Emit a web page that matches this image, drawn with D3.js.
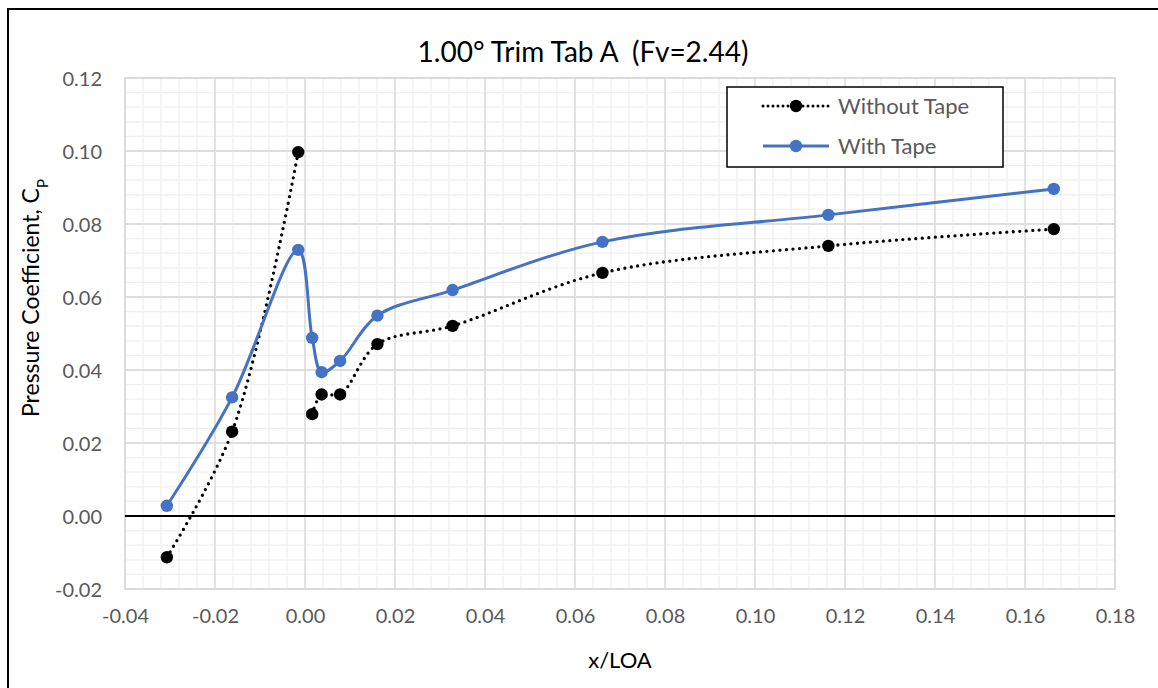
<!DOCTYPE html>
<html>
<head>
<meta charset="utf-8">
<script src="https://cdn.jsdelivr.net/npm/d3@7"></script>
<style>
  html, body { margin: 0; padding: 0; background: #fff; }
  svg { display: block; font-family: Lato, "Open Sans", sans-serif; }
</style>
</head>
<body>
<svg id="chart" width="1158" height="688"></svg>
<script>
// ---- data ----
const xPositions = [-0.0307, -0.0162, -0.0015, 0.0016, 0.0037, 0.0078, 0.0161, 0.0328, 0.0661, 0.1163, 0.1664];
const withoutTape = [-0.0113, 0.0231, 0.0997, 0.0279, 0.0333, 0.0333, 0.0471, 0.0521, 0.0666, 0.0740, 0.0786];
const withTape    = [0.0028, 0.0325, 0.0729, 0.0488, 0.0394, 0.0425, 0.0549, 0.0619, 0.0751, 0.0825, 0.0896];
const withoutTapeBreakAfter = [2]; // the dotted line is not drawn between these points
const xTicks = [-0.04, -0.02, 0.00, 0.02, 0.04, 0.06, 0.08, 0.10, 0.12, 0.14, 0.16, 0.18];
const yTicks = [-0.02, 0.00, 0.02, 0.04, 0.06, 0.08, 0.10, 0.12];
const seriesNames = ["Without Tape", "With Tape"];
const chartTitle = "1.00\u00B0 Trim Tab A  (Fv=2.44)";

// ---- layout ----
const svg = d3.select("#chart");
const L = 125, R = 1115, T = 78, B = 589;
const x = d3.scaleLinear().domain([-0.04, 0.18]).range([L, R]);
const y = d3.scaleLinear().domain([-0.02, 0.12]).range([B, T]);

// outer frame (partially visible)
svg.append("path")
  .attr("d", `M8,700 L8,9 L1170,9`)
  .attr("fill", "none").attr("stroke", "#000").attr("stroke-width", 2);

// minor grid
const minorX = d3.range(0, 56).map(i => -0.04 + i * 0.004).filter(v => v < 0.1801);
const minorY = d3.range(0, 36).map(i => -0.02 + i * 0.004).filter(v => v < 0.1201);
const g = svg.append("g");
g.selectAll(".mx").data(minorX).join("line")
  .attr("x1", d => x(d)).attr("x2", d => x(d)).attr("y1", T).attr("y2", B)
  .attr("stroke", "#f0f0f0").attr("stroke-width", 1.3);
g.selectAll(".my").data(minorY).join("line")
  .attr("y1", d => y(d)).attr("y2", d => y(d)).attr("x1", L).attr("x2", R)
  .attr("stroke", "#f0f0f0").attr("stroke-width", 1.3);
// major grid
g.selectAll(".Mx").data(xTicks).join("line")
  .attr("x1", d => x(d)).attr("x2", d => x(d)).attr("y1", T).attr("y2", B)
  .attr("stroke", "#d9d9d9").attr("stroke-width", 1.3);
g.selectAll(".My").data(yTicks).join("line")
  .attr("y1", d => y(d)).attr("y2", d => y(d)).attr("x1", L).attr("x2", R)
  .attr("stroke", "#d9d9d9").attr("stroke-width", 1.3);
// plot border
svg.append("rect").attr("x", L).attr("y", T).attr("width", R - L).attr("height", B - T)
  .attr("fill", "none").attr("stroke", "#d9d9d9").attr("stroke-width", 1.3);

// zero line
svg.append("line").attr("x1", L).attr("x2", R).attr("y1", y(0)).attr("y2", y(0))
  .attr("stroke", "#000").attr("stroke-width", 2);

// axes (labels only)
const xAxis = d3.axisBottom(x).tickValues(xTicks).tickFormat(d3.format(".2f")).tickSize(0).tickPadding(0);
const yAxis = d3.axisLeft(y).tickValues(yTicks).tickFormat(d3.format(".2f")).tickSize(0).tickPadding(0);
const gx = svg.append("g").attr("transform", `translate(0,${B + 20})`).call(xAxis);
const gy = svg.append("g").attr("transform", `translate(${L - 23},0)`).call(yAxis);
[gx, gy].forEach(a => {
  a.select(".domain").remove();
  a.selectAll("text").attr("fill", "#595959").style("font-size", "20px").style("font-family", "Lato, sans-serif");
});
gx.selectAll("text").attr("dy", "0.71em");
gy.selectAll("text").attr("dy", "0.35em");
gx.selectAll("text").text(d => d3.format(".2f")(d).replace("\u2212", "-"));
gy.selectAll("text").text(d => d3.format(".2f")(d).replace("\u2212", "-"));

// titles
svg.append("text").attr("x", 583).attr("y", 62).attr("text-anchor", "middle")
  .style("font-size", "28px").style("white-space", "pre").attr("xml:space", "preserve")
  .attr("fill", "#000").text(chartTitle);
svg.append("text").attr("x", 620).attr("y", 668).attr("text-anchor", "middle")
  .style("font-size", "22px").attr("fill", "#000").text("x/LOA");
const yt = svg.append("text").attr("transform", "translate(39,298) rotate(-90)")
  .attr("text-anchor", "middle").style("font-size", "23px").attr("fill", "#000");
yt.append("tspan").text("Pressure Coefficient, C");
yt.append("tspan").attr("baseline-shift", "sub").style("font-size", "15px").text("P");

// series
const pts = (vals) => xPositions.map((xv, i) => ({ x: xv, y: vals[i], i }));
const curve = d3.curveCatmullRom.alpha(0.5);
const lineGen = d3.line().x(d => x(d.x)).y(d => y(d.y)).curve(curve);

// Without tape: dotted, with segment break
const blackPts = pts(withoutTape);
const segments = [];
let start = 0;
withoutTapeBreakAfter.concat([blackPts.length - 1]).forEach(b => {
  segments.push(blackPts.slice(start, b + 1));
  start = b + 1;
});
svg.append("g").selectAll("path").data(segments).join("path")
  .attr("d", d => lineGen(d))
  .attr("fill", "none").attr("stroke", "#000").attr("stroke-width", 3.3)
  .attr("stroke-dasharray", "0,6.5").attr("stroke-linecap", "round");

const bluePts = pts(withTape);
svg.append("path").attr("d", lineGen(bluePts))
  .attr("fill", "none").attr("stroke", "#4472C4").attr("stroke-width", 3);

svg.append("g").selectAll("circle").data(blackPts).join("circle")
  .attr("cx", d => x(d.x)).attr("cy", d => y(d.y)).attr("r", 6.2).attr("fill", "#000");
svg.append("g").selectAll("circle").data(bluePts).join("circle")
  .attr("cx", d => x(d.x)).attr("cy", d => y(d.y)).attr("r", 6.2).attr("fill", "#4472C4");

// legend
const lg = svg.append("g");
lg.append("rect").attr("x", 727).attr("y", 87).attr("width", 276).attr("height", 80)
  .attr("fill", "#fff").attr("stroke", "#000").attr("stroke-width", 1.5);
const legendItems = [
  { name: seriesNames[0], color: "#000", dash: "0,5", cy: 106 },
  { name: seriesNames[1], color: "#4472C4", dash: null, cy: 146 }
];
legendItems.forEach(it => {
  lg.append("line").attr("x1", 763).attr("x2", 829).attr("y1", it.cy).attr("y2", it.cy)
    .attr("stroke", it.color).attr("stroke-width", 3)
    .attr("stroke-dasharray", it.dash).attr("stroke-linecap", it.dash ? "round" : "butt");
  lg.append("circle").attr("cx", 796).attr("cy", it.cy).attr("r", 6.2).attr("fill", it.color);
  lg.append("text").attr("x", 838).attr("y", it.cy).attr("dy", "0.35em")
    .style("font-size", "22px").attr("fill", "#595959").text(it.name);
});
</script>
</body>
</html>
